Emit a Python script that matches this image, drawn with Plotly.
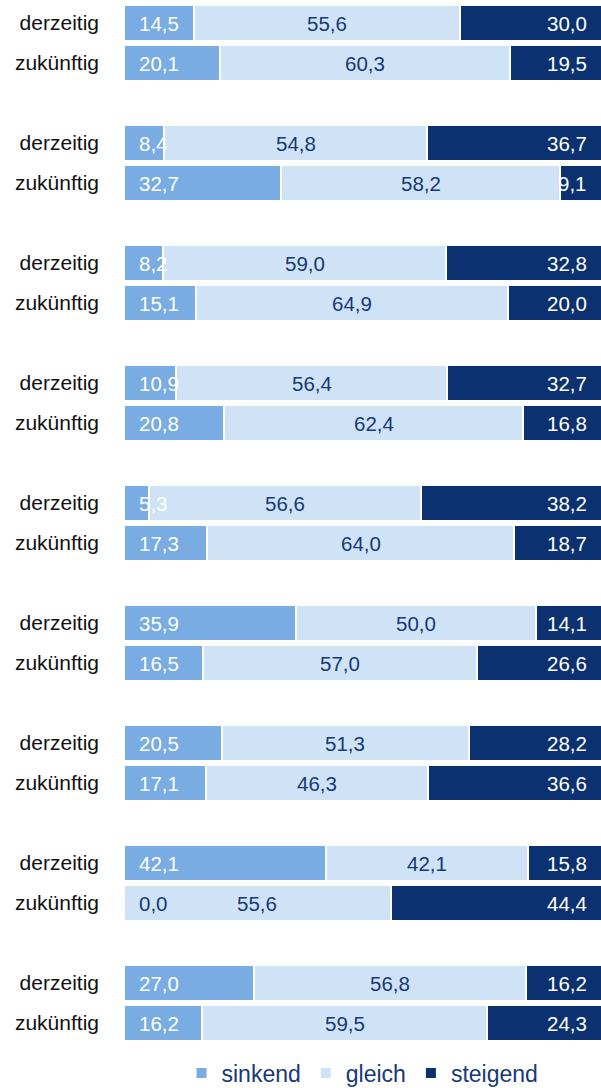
import plotly.graph_objects as go

row_labels = ["derzeitig", "zukünftig"]
series_names = ["sinkend", "gleich", "steigend"]

sinkend_derz = [14.5, 8.4, 8.2, 10.9, 5.3, 35.9, 20.5, 42.1, 27.0]
gleich_derz = [55.6, 54.8, 59.0, 56.4, 56.6, 50.0, 51.3, 42.1, 56.8]
steigend_derz = [30.0, 36.7, 32.8, 32.7, 38.2, 14.1, 28.2, 15.8, 16.2]
sinkend_zuk = [20.1, 32.7, 15.1, 20.8, 17.3, 16.5, 17.1, 0.0, 16.2]
gleich_zuk = [60.3, 58.2, 64.9, 62.4, 64.0, 57.0, 46.3, 55.6, 59.5]
steigend_zuk = [19.5, 9.1, 20.0, 16.8, 18.7, 26.6, 36.6, 44.4, 24.3]

colors = ["#79ACE2", "#D0E3F6", "#0B3170"]
navy_text = "#173876"
FONT = "Liberation Sans, Arial, sans-serif"
VAL_SIZE = 20.5
TICK_SIZE = 21
X_MAX = 99.4  # bars run slightly past the right edge in the reference

n = len(sinkend_derz)
ypos, ticktext = [], []
sink, gleich, steig = [], [], []
for i in range(n):
    ypos += [3 * i, 3 * i + 1]
    ticktext += row_labels
    sink += [sinkend_derz[i], sinkend_zuk[i]]
    gleich += [gleich_derz[i], gleich_zuk[i]]
    steig += [steigend_derz[i], steigend_zuk[i]]

fig = go.Figure()
for name, vals, col in zip(series_names, [sink, gleich, steig], colors):
    fig.add_trace(go.Bar(
        y=ypos, x=vals, name=name, orientation="h",
        marker=dict(color=col, line=dict(color="white", width=2)),
        width=0.92, hoverinfo="skip",
    ))

def fmt(v):
    return f"{v:.1f}".replace(".", ",")

annotations = []
for y, s, g, t in zip(ypos, sink, gleich, steig):
    annotations.append(dict(
        x=0, y=y, xref="x", yref="y", text=fmt(s), showarrow=False,
        xanchor="left", xshift=13,
        font=dict(family=FONT, size=VAL_SIZE, color="white" if s > 0 else navy_text),
    ))
    annotations.append(dict(
        x=s + g / 2, y=y, xref="x", yref="y", text=fmt(g), showarrow=False,
        xanchor="center",
        font=dict(family=FONT, size=VAL_SIZE, color=navy_text),
    ))
    annotations.append(dict(
        x=min(s + g + t, X_MAX), y=y, xref="x", yref="y", text=fmt(t), showarrow=False,
        xanchor="right", xshift=-12,
        font=dict(family=FONT, size=VAL_SIZE, color="white"),
    ))

fig.update_layout(
    barmode="stack",
    width=601, height=1088,
    margin=dict(l=124, r=0, t=3, b=45, autoexpand=False),
    paper_bgcolor="white", plot_bgcolor="white",
    font=dict(family=FONT, size=TICK_SIZE, color="#111111"),
    annotations=annotations,
    showlegend=True,
    legend=dict(
        orientation="h", x=0.5, xanchor="center", y=-0.029, yanchor="middle",
        font=dict(family=FONT, size=23, color=navy_text),
        itemwidth=30, traceorder="normal",
    ),
    xaxis=dict(range=[0, X_MAX], showgrid=False, zeroline=False, showticklabels=False,
               showline=False, fixedrange=True),
    yaxis=dict(range=[25.5, -0.5], tickvals=ypos, ticktext=ticktext,
               showgrid=False, zeroline=False, showline=False, automargin=False,
               ticks="", ticklabelstandoff=24,
               tickfont=dict(family=FONT, size=TICK_SIZE, color="#111111")),
)

fig.write_html(
    "out.html",
    config={"displayModeBar": False, "staticPlot": True},
    post_script="document.body.style.margin='0';document.body.style.overflow='hidden';",
)
